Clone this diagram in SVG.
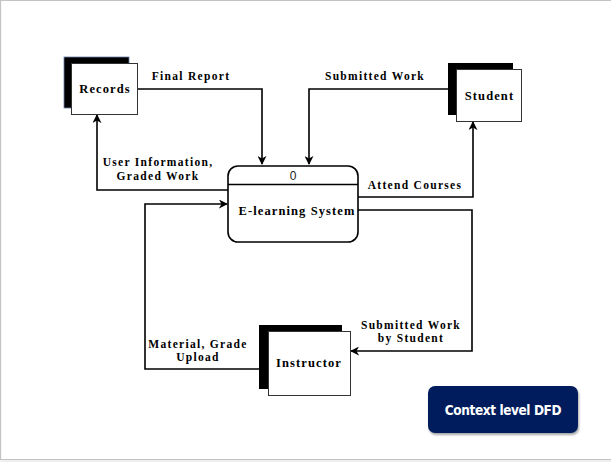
<svg xmlns="http://www.w3.org/2000/svg" width="611" height="462" viewBox="0 0 611 462">
<defs>
<marker id="arr" viewBox="0 0 10 10" refX="9" refY="5" markerWidth="9" markerHeight="9" markerUnits="userSpaceOnUse" orient="auto">
<path d="M0,0 L10,5 L0,10 L3,5 Z" fill="#000"/>
</marker>
<filter id="sh" x="-10%" y="-10%" width="120%" height="130%">
<feDropShadow dx="1" dy="2" stdDeviation="1.2" flood-color="#000" flood-opacity="0.35"/>
</filter>
</defs>
<style>
.lbl{font-family:"Liberation Serif",serif;font-weight:bold;font-size:11.5px;letter-spacing:1.3px;fill:#000;text-anchor:middle}
.nm{font-family:"Liberation Serif",serif;font-weight:bold;font-size:12.5px;letter-spacing:1.1px;fill:#000;text-anchor:middle}
.shade{fill:#000}
.box{fill:#fff;stroke:#333;stroke-width:1}
.ln{fill:none;stroke:#000;stroke-width:1.6}
</style>
<rect x="0" y="0" width="611" height="462" fill="#fff"/>
<rect x="0" y="460" width="611" height="2" fill="#f0f0f0"/>
<path d="M0.5,460 V0.5 H611 M0,459.5 H611" fill="none" stroke="#c3c3c3" stroke-width="1.2"/>

<g id="connectors">
<path class="ln" d="M137,89 H262 V164" marker-end="url(#arr)"/>
<path class="ln" d="M448,89 H309 V164" marker-end="url(#arr)"/>
<path class="ln" d="M228,190 H97 V115" marker-end="url(#arr)"/>
<path class="ln" d="M358,197 H473 V122" marker-end="url(#arr)"/>
<path class="ln" d="M358,210 H472 V351 H351" marker-end="url(#arr)"/>
<path class="ln" d="M259,369 H145 V204 H227" marker-end="url(#arr)"/>
<text class="lbl" x="191" y="80">Final Report</text>
<text class="lbl" x="375" y="80">Submitted Work</text>
<text class="lbl" x="158" y="166">User Information,</text>
<text class="lbl" x="158" y="180">Graded Work</text>
<text class="lbl" x="415" y="189">Attend Courses</text>
<text class="lbl" x="411" y="329">Submitted Work</text>
<text class="lbl" x="411" y="342">by Student</text>
<text class="lbl" x="198" y="348">Material, Grade</text>
<text class="lbl" x="198" y="361">Upload</text>
</g>

<g id="records">
<rect x="64" y="57" width="65" height="51" class="shade" stroke="#6a7fa8" stroke-width="0.8"/>
<rect x="71.5" y="63.5" width="66" height="51" class="box"/>
<text class="nm" x="105" y="93">Records</text>
</g>

<g id="student">
<rect x="448" y="63" width="65" height="52" class="shade"/>
<rect x="456.5" y="69.5" width="65" height="52" class="box" stroke="#777"/>
<text class="nm" x="489.5" y="100">Student</text>
</g>

<g id="instructor">
<rect x="259" y="325" width="83" height="64" class="shade"/>
<rect x="268.5" y="331.5" width="82" height="64" class="box"/>
<text class="nm" x="309" y="367">Instructor</text>
</g>

<g id="elearning">
<rect x="228" y="166" width="130" height="76" rx="10" ry="10" fill="#fff" stroke="#000" stroke-width="1.6"/>
<line x1="228" y1="184.5" x2="358" y2="184.5" stroke="#000" stroke-width="1.4"/>
<text x="293" y="180" font-family="Liberation Sans,Arial,sans-serif" font-size="12" text-anchor="middle" fill="#222">0</text>
<text class="nm" x="297" y="215" letter-spacing="1">E-learning System</text>
</g>

<g id="title">
<rect x="428" y="386" width="150" height="47" rx="7" ry="7" fill="#001f5b" filter="url(#sh)"/>
<text x="503" y="414.5" font-family="DejaVu Sans Condensed,DejaVu Sans,sans-serif" font-size="13.5" font-weight="bold" fill="#fff" text-anchor="middle" letter-spacing="-0.4">Context level DFD</text>
</g>
</svg>
